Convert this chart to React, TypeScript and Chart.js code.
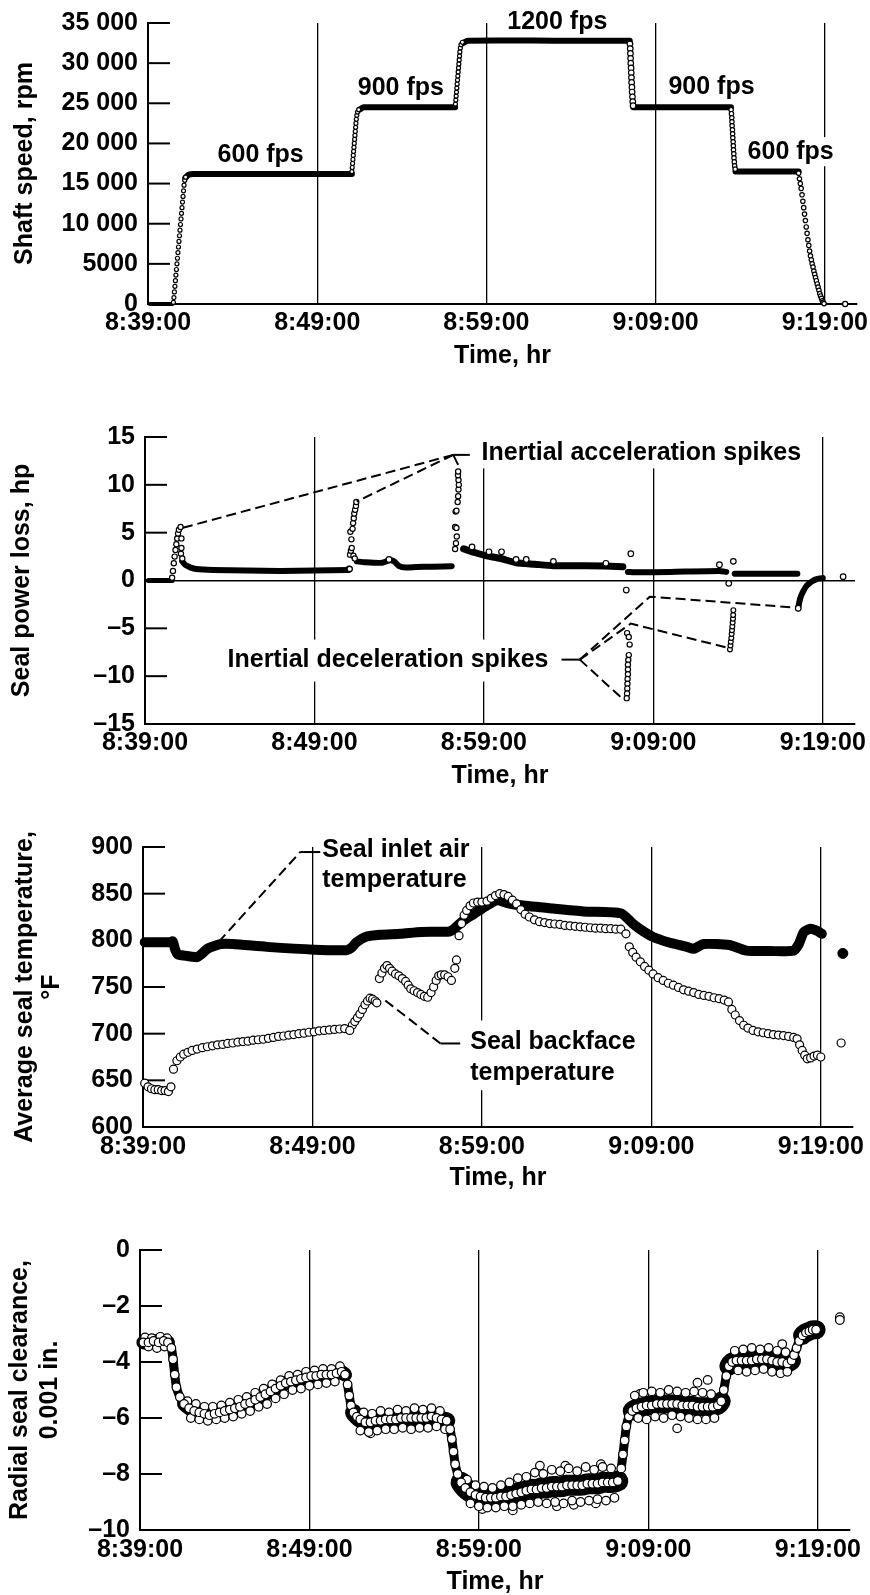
import React, { useEffect, useRef } from "react";
import { Chart, registerables } from "chart.js";

Chart.register(...registerables);

const FONT = "'Liberation Sans', Arial, Helvetica, sans-serif";

/* ---------- shared time axis (minutes after 8:39:00) ---------- */
const timeTickValues = [0, 10, 20, 30, 40];
const timeTickLabels = ["8:39:00", "8:49:00", "8:59:00", "9:09:00", "9:19:00"];
const timeMax = 41.9;
const timeTitle = "Time, hr";

/* ---------- panel 1: shaft speed, rpm ---------- */
const speedTickValues = [0, 5000, 10000, 15000, 20000, 25000, 30000, 35000];
const speedTickLabels = ["0", "5000", "10 000", "15 000", "20 000", "25 000", "30 000", "35 000"];
const speedIdle = [[0.1, 0], [0.8, 0], [1.45, 0]];
const speedHold600Up = [[2.2, 15700], [2.4, 16100], [2.7, 16200], [7.0, 16200], [12.05, 16200]];
const speedHold900Up = [[12.5, 24200], [12.75, 24500], [15.0, 24500], [18.15, 24500]];
const speedHold1200 = [[18.62, 32500], [18.9, 32800], [24.0, 32800], [28.47, 32800]];
const speedHold900Down = [[28.68, 24500], [31.0, 24500], [34.45, 24500]];
const speedHold600Down = [[34.72, 16500], [36.5, 16500], [38.45, 16500]];
const speedSpinDownTail = [[39.45, 3300], [39.6, 2100], [39.75, 1000], [39.9, 200], [40.0, 0]];
const speedRampUp1 = [
  [1.5, 200], [1.53, 800], [1.56, 1500], [1.59, 2200], [1.62, 2900], [1.65, 3600], [1.68, 4300], [1.71, 5000],
  [1.74, 5700], [1.77, 6400], [1.8, 7100], [1.83, 7800], [1.86, 8500], [1.89, 9200], [1.92, 9900], [1.95, 10600],
  [1.98, 11300], [2.01, 12000], [2.04, 12700], [2.07, 13400], [2.1, 14100], [2.13, 14800], [2.17, 15400], [2.22, 15800],
];
const speedRampUp2 = [
  [12.05, 16500], [12.07, 17000], [12.09, 17500], [12.11, 18000], [12.13, 18500], [12.15, 19000], [12.17, 19500],
  [12.19, 20000], [12.21, 20500], [12.23, 21000], [12.25, 21500], [12.27, 22000], [12.29, 22500], [12.31, 23000],
  [12.34, 23500], [12.38, 23900], [12.45, 24200],
];
const speedRampUp3 = [
  [18.17, 24900], [18.19, 25400], [18.21, 25900], [18.23, 26400], [18.25, 26900], [18.27, 27400], [18.29, 27900],
  [18.31, 28400], [18.33, 28900], [18.35, 29400], [18.37, 29900], [18.39, 30400], [18.41, 30900], [18.43, 31400],
  [18.46, 31900], [18.5, 32300], [18.58, 32600],
];
const speedRampDown1 = [
  [28.48, 32400], [28.5, 31800], [28.51, 31200], [28.52, 30600], [28.53, 30000], [28.55, 29400], [28.56, 28800],
  [28.57, 28200], [28.58, 27600], [28.6, 27000], [28.61, 26400], [28.63, 25800], [28.65, 25200], [28.67, 24700],
];
const speedRampDown2 = [
  [34.46, 24200], [34.48, 23700], [34.5, 23200], [34.51, 22700], [34.52, 22200], [34.54, 21700], [34.55, 21200],
  [34.56, 20700], [34.58, 20200], [34.59, 19700], [34.6, 19200], [34.62, 18700], [34.63, 18200], [34.65, 17700],
  [34.67, 17200], [34.7, 16800],
];
const speedSpinDown = [
  [38.45, 16300], [38.5, 15600], [38.55, 15000], [38.6, 14400], [38.65, 13600], [38.7, 12800], [38.75, 12000],
  [38.8, 11200], [38.85, 10400], [38.9, 9600], [38.95, 8800], [39.0, 8000], [39.05, 7300], [39.1, 6600],
  [39.15, 6000], [39.2, 5500], [39.25, 5000], [39.3, 4600], [39.35, 4100], [39.4, 3700], [39.45, 3300],
  [39.5, 2900], [39.55, 2500], [39.6, 2100], [39.65, 1700], [39.7, 1300], [39.75, 1000], [39.8, 700],
  [39.85, 400], [39.9, 200], [39.95, 50],
];
const speedAfterStop = [[41.2, 0]];
const speedLabels = ["600 fps", "900 fps", "1200 fps", "900 fps", "600 fps"];
const speedLabelAt = [[6.66, 18560], [14.94, 26870], [24.19, 35060], [33.3, 27070], [37.98, 18970]];

/* ---------- panel 2: seal power loss, hp ---------- */
const powerTickValues = [-15, -10, -5, 0, 5, 10, 15];
const powerTickLabels = ["\u201315", "\u201310", "\u20135", "0", "5", "10", "15"];
const powerIdle = [[0.2, 0], [0.8, 0], [1.6, 0]];
const powerBand600Up = [[2.2, 2.0], [2.4, 1.6], [2.7, 1.35], [3.0, 1.2], [4.0, 1.1], [6.0, 1.05], [8.0, 1.0], [10.0, 1.05], [12.0, 1.1]];
const powerBand900Up = [[12.5, 2.0], [13.0, 1.9], [14.0, 1.85], [14.4, 2.1], [14.7, 2.0], [15.0, 1.5], [15.4, 1.35], [16.0, 1.4], [17.0, 1.45], [18.1, 1.5]];
const powerBand1200 = [[18.8, 3.3], [19.5, 2.9], [20.1, 2.6], [21.0, 2.3], [21.9, 1.85], [23.0, 1.7], [24.1, 1.55], [26.0, 1.55], [28.2, 1.45]];
const powerBand900Down = [[28.5, 0.9], [29.0, 0.85], [31.0, 0.9], [33.9, 1.0], [34.3, 0.9]];
const powerBand600Down = [[34.8, 0.7], [36.0, 0.7], [38.5, 0.7]];
const powerRecovery = [[38.55, -2.9], [38.62, -2.2], [38.72, -1.6], [38.85, -1.1], [39.0, -0.65], [39.2, -0.3], [39.4, -0.05], [39.6, 0.12], [39.8, 0.22], [40.0, 0.25]];
const powerAccelSpike1 = [
  [1.6, 0.3], [1.65, 1.0], [1.7, 1.8], [1.75, 2.5], [1.8, 3.2], [1.85, 3.8], [1.9, 4.4], [1.95, 4.9], [2.0, 5.3],
  [2.1, 5.6], [2.15, 4.4], [2.15, 3.4], [2.12, 2.8], [2.2, 2.3],
];
const powerAccelSpike2 = [
  [12.08, 1.2], [12.1, 2.7], [12.15, 3.1], [12.2, 3.4], [12.18, 4.3], [12.12, 5.1], [12.25, 5.4], [12.28, 6.0],
  [12.32, 6.5], [12.35, 7.0], [12.4, 7.4], [12.45, 7.8], [12.47, 8.2], [12.3, 2.6], [12.38, 2.3],
];
const powerAccelSpike3 = [
  [18.3, 3.3], [18.35, 3.9], [18.4, 4.6], [18.3, 5.6], [18.38, 5.5], [18.33, 7.2], [18.38, 7.3], [18.45, 8.2],
  [18.48, 8.8], [18.5, 9.5], [18.52, 10.0], [18.5, 10.5], [18.47, 11.0], [18.48, 11.4],
];
const powerDecelSpike1 = [
  [28.45, -5.5], [28.55, -5.9], [28.6, -6.7], [28.55, -7.8], [28.52, -8.3], [28.5, -8.8], [28.5, -9.3], [28.5, -9.8],
  [28.48, -10.3], [28.47, -10.8], [28.46, -11.3], [28.45, -11.8], [28.43, -12.3],
];
const powerDecelSpike2 = [
  [34.52, -7.2], [34.55, -6.8], [34.57, -6.4], [34.6, -6.0], [34.62, -5.6], [34.64, -5.2], [34.66, -4.8],
  [34.68, -4.4], [34.7, -4.0], [34.71, -3.6], [34.72, -3.1],
];
const powerStrays = [
  [28.67, 2.8], [28.4, -1.0], [34.72, 2.0], [34.45, -0.3], [38.55, -2.9], [41.2, 0.4], [14.4, 2.2], [12.05, 1.2],
  [21.04, 3.0], [21.9, 2.2], [22.5, 2.2], [24.1, 2.0], [27.2, 1.8], [33.9, 1.65], [19.3, 3.5], [20.3, 3.0],
];

/* ---------- panel 3: average seal temperature, °F ---------- */
const tempTickValues = [600, 650, 700, 750, 800, 850, 900];
const tempTickLabels = ["600", "650", "700", "750", "800", "850", "900"];
const inletAir = [
  [0.1, 798], [1.6, 798], [1.75, 799], [1.9, 790], [2.05, 785], [2.3, 784], [3.2, 782], [3.5, 786], [3.8, 791],
  [4.2, 794], [4.6, 796], [5.3, 796], [7.3, 793], [10.1, 790], [12.0, 789.5], [12.3, 792], [12.6, 798], [13.2, 804],
  [14.0, 806], [15.2, 807], [16.4, 809], [18.1, 809.5], [18.4, 813], [18.9, 821], [19.5, 828], [20.0, 834],
  [20.9, 843], [21.5, 840], [22.3, 837.5], [24.2, 834], [26.0, 831], [28.2, 829], [28.9, 818], [29.5, 810],
  [30.1, 803.6], [31.0, 798], [32.1, 793], [32.5, 791], [33.1, 796], [34.6, 795], [35.6, 789], [37.0, 788.5],
  [38.4, 789], [38.7, 796], [39.0, 809], [39.4, 812.5], [39.8, 810], [40.06, 807],
];
const inletAirLast = [[41.3, 786]];
const backfaceIdle = [[0.1, 647], [0.3, 643], [0.5, 641], [0.7, 640], [0.9, 640], [1.1, 639], [1.3, 639], [1.5, 638], [1.65, 643]];
const backface600 = [
  [1.8, 662], [2.0, 671], [2.2, 675], [2.4, 678], [2.65, 680], [2.9, 682], [3.2, 683.5], [3.5, 685], [3.8, 686],
  [4.1, 687], [4.4, 688], [4.7, 688.5], [5.0, 689.5], [5.3, 690], [5.6, 691], [5.9, 691.5], [6.2, 692], [6.5, 693],
  [6.8, 693.5], [7.1, 694], [7.4, 695], [7.7, 696], [8.0, 697], [8.3, 697.5], [8.6, 698.5], [8.9, 699], [9.2, 700],
  [9.5, 700.5], [9.8, 701.5], [10.1, 702], [10.4, 703], [10.7, 703.5], [11.0, 704], [11.3, 704.5], [11.6, 705],
  [11.9, 705.5], [12.2, 703.5],
];
const backface900 = [
  [12.35, 709], [12.5, 713], [12.65, 717], [12.8, 721], [12.95, 726], [13.1, 731], [13.25, 735], [13.4, 738],
  [13.55, 737], [13.7, 735], [13.8, 733], [13.95, 759], [14.1, 765], [14.25, 770], [14.4, 773], [14.55, 770],
  [14.7, 767], [14.9, 764], [15.1, 762], [15.3, 759], [15.5, 756], [15.65, 752], [15.8, 748], [16.0, 746],
  [16.2, 744], [16.4, 742], [16.6, 740], [16.8, 739], [17.0, 744], [17.15, 750], [17.3, 757], [17.45, 762],
  [17.6, 763], [17.8, 763], [18.0, 761], [18.2, 757], [18.4, 770], [18.5, 779],
];
const backface1200 = [
  [18.65, 805], [18.8, 818], [18.95, 827], [19.1, 832], [19.3, 837], [19.5, 840], [19.75, 841], [20.0, 841],
  [20.3, 842], [20.55, 845], [20.8, 848], [21.05, 850], [21.3, 849], [21.55, 847], [21.8, 843], [22.05, 839],
  [22.3, 833], [22.55, 828], [22.8, 825], [23.1, 822], [23.4, 820], [23.7, 819], [24.0, 818], [24.3, 817.5],
  [24.6, 817], [24.9, 816], [25.2, 815.5], [25.5, 815], [25.8, 814.5], [26.1, 814], [26.4, 813.5], [26.7, 813],
  [27.0, 813], [27.3, 812.5], [27.6, 812.5], [27.9, 812], [28.2, 812], [28.5, 807],
];
const backfaceDecel = [
  [28.7, 793], [28.9, 787], [29.1, 782], [29.35, 777], [29.6, 772], [29.85, 768], [30.1, 764], [30.4, 760],
  [30.7, 757], [31.0, 754], [31.3, 752], [31.6, 749.5], [31.9, 747], [32.2, 745.5], [32.5, 744], [32.8, 742],
  [33.1, 741], [33.4, 740], [33.7, 738.5], [34.0, 737.5], [34.3, 736], [34.55, 734], [34.75, 726], [34.95, 720],
  [35.2, 714], [35.45, 709], [35.7, 706], [36.0, 703.5], [36.3, 702], [36.6, 701], [36.9, 700], [37.2, 699],
  [37.5, 698.5], [37.8, 698], [38.1, 697], [38.4, 696], [38.6, 694.5], [38.75, 688], [38.9, 682], [39.05, 677],
  [39.2, 673], [39.4, 674], [39.6, 676], [39.8, 677], [40.0, 675],
];
const backfaceLast = [[41.2, 690]];

/* ---------- panel 4: radial seal clearance, 0.001 in. ---------- */
const clearTickValues = [-10, -8, -6, -4, -2, 0];
const clearTickLabels = ["\u201310", "\u20138", "\u20136", "\u20134", "\u20132", "0"];
const clearanceStart = [
  [0.2, -3.3], [0.5, -3.3], [0.8, -3.25], [1.1, -3.3], [1.4, -3.25], [1.65, -3.3], [1.85, -3.5], [1.95, -3.9],
  [2.05, -4.45], [2.15, -4.9], [2.35, -5.25], [2.6, -5.5], [2.9, -5.65], [3.2, -5.75], [3.5, -5.8], [3.8, -5.85],
  [4.1, -5.9], [4.4, -5.85], [4.7, -5.8], [5.0, -5.75], [5.3, -5.7], [5.6, -5.65], [5.9, -5.6], [6.2, -5.5],
  [6.5, -5.45], [6.8, -5.35], [7.1, -5.25], [7.4, -5.15], [7.7, -5.05], [8.0, -4.95], [8.3, -4.85], [8.6, -4.75],
  [8.9, -4.7], [9.2, -4.65], [9.5, -4.6], [9.8, -4.55], [10.1, -4.5], [10.4, -4.5], [10.7, -4.45], [11.0, -4.45],
  [11.3, -4.45], [11.6, -4.4], [11.9, -4.35], [12.1, -4.45],
];
const clearance900 = [
  [12.25, -4.8], [12.35, -5.2], [12.45, -5.55], [12.6, -5.8], [12.8, -5.95], [13.0, -6.05], [13.3, -6.15],
  [13.6, -6.15], [13.9, -6.1], [14.2, -6.1], [14.5, -6.05], [14.8, -6.05], [15.1, -6.05], [15.4, -6.0],
  [15.7, -6.0], [16.0, -6.0], [16.3, -6.0], [16.6, -6.0], [16.9, -6.0], [17.2, -5.95], [17.5, -6.0], [17.8, -6.05],
  [18.1, -6.1],
];
const clearance1200 = [
  [18.3, -6.4], [18.4, -6.75], [18.5, -7.2], [18.6, -7.65], [18.75, -8.0], [18.95, -8.3], [19.2, -8.5],
  [19.5, -8.65], [19.8, -8.75], [20.1, -8.8], [20.4, -8.85], [20.7, -8.85], [21.0, -8.85], [21.3, -8.8],
  [21.6, -8.8], [21.9, -8.75], [22.2, -8.7], [22.5, -8.65], [22.8, -8.6], [23.1, -8.55], [23.4, -8.55],
  [23.7, -8.5], [24.0, -8.5], [24.3, -8.45], [24.6, -8.45], [24.9, -8.45], [25.2, -8.4], [25.5, -8.4],
  [25.8, -8.4], [26.1, -8.4], [26.4, -8.35], [26.7, -8.35], [27.0, -8.35], [27.3, -8.3], [27.6, -8.3],
  [27.9, -8.3], [28.2, -8.25],
];
const clearanceDecel = [
  [28.4, -7.8], [28.5, -7.3], [28.6, -6.8], [28.7, -6.3], [28.85, -5.95], [29.05, -5.75], [29.3, -5.65],
  [29.6, -5.6], [29.9, -5.55], [30.2, -5.55], [30.5, -5.5], [30.8, -5.5], [31.1, -5.5], [31.4, -5.5],
  [31.7, -5.5], [32.0, -5.55], [32.3, -5.55], [32.6, -5.55], [32.9, -5.6], [33.2, -5.6], [33.5, -5.6],
  [33.8, -5.6], [34.1, -5.55], [34.3, -5.4], [34.45, -5.0], [34.6, -4.5], [34.75, -4.15], [34.95, -4.0],
  [35.2, -3.95], [35.5, -3.95], [35.8, -3.95], [36.1, -3.95], [36.4, -3.9], [36.7, -3.9], [37.0, -3.9],
  [37.3, -3.95], [37.6, -4.0], [37.9, -4.0], [38.2, -4.05], [38.45, -3.95], [38.6, -3.75], [38.75, -3.5],
  [38.9, -3.25], [39.1, -3.05], [39.3, -2.95], [39.5, -2.9], [39.7, -2.85], [39.9, -2.85],
];
const clearanceUpperEdge = [
  [0.3, -3.12], [0.7, -3.15], [1.2, -3.1], [1.6, -3.15], [2.8, -5.4], [3.3, -5.5], [3.8, -5.6], [4.3, -5.6],
  [4.8, -5.55], [5.3, -5.45], [5.8, -5.35], [6.3, -5.25], [6.8, -5.1], [7.3, -4.95], [7.8, -4.8], [8.3, -4.65],
  [8.8, -4.5], [9.3, -4.45], [9.8, -4.35], [10.3, -4.3], [10.8, -4.25], [11.3, -4.25], [11.8, -4.15],
  [13.2, -5.8], [13.7, -5.85], [14.2, -5.75], [14.7, -5.8], [15.2, -5.7], [15.7, -5.75], [16.2, -5.65],
  [16.7, -5.7], [17.2, -5.65], [17.7, -5.75], [19.3, -8.2], [19.8, -8.4], [20.3, -8.45], [20.8, -8.5],
  [21.3, -8.4], [21.8, -8.3], [22.3, -8.15], [22.8, -8.1], [23.3, -7.95], [23.8, -8.0], [24.3, -7.85],
  [24.8, -7.9], [25.3, -7.8], [25.8, -7.9], [26.3, -7.75], [26.8, -7.85], [27.3, -7.75], [27.8, -7.8],
  [29.2, -5.2], [29.7, -5.1], [30.2, -5.05], [30.7, -5.1], [31.2, -5.0], [31.7, -5.05], [32.2, -5.1],
  [32.7, -5.05], [33.2, -5.1], [33.7, -5.15], [35.1, -3.6], [35.6, -3.55], [36.1, -3.5], [36.6, -3.55],
  [37.1, -3.5], [37.6, -3.6], [38.1, -3.65],
];
const clearanceLowerEdge = [
  [0.5, -3.45], [1.0, -3.5], [1.45, -3.45], [3.0, -6.0], [3.5, -6.05], [4.0, -6.1], [4.5, -6.05], [5.0, -6.0],
  [5.5, -5.95], [6.0, -5.85], [6.5, -5.75], [7.0, -5.6], [7.5, -5.5], [8.0, -5.3], [8.5, -5.15], [9.0, -5.0],
  [9.5, -4.95], [10.0, -4.85], [10.5, -4.8], [11.0, -4.75], [11.5, -4.7], [13.0, -6.45], [13.5, -6.5],
  [14.0, -6.45], [14.5, -6.4], [15.0, -6.4], [15.5, -6.35], [16.0, -6.4], [16.5, -6.35], [17.0, -6.35],
  [17.5, -6.3], [18.0, -6.4], [19.5, -9.05], [20.0, -9.15], [20.5, -9.2], [21.0, -9.2], [21.5, -9.15],
  [22.0, -9.15], [22.5, -9.1], [23.0, -9.05], [23.5, -9.0], [24.0, -9.05], [24.5, -9.0], [25.0, -9.05],
  [25.5, -8.95], [26.0, -9.0], [26.5, -8.95], [27.0, -8.9], [27.5, -8.95], [28.0, -8.85], [29.4, -6.0],
  [29.9, -6.05], [30.4, -5.95], [30.9, -6.0], [31.4, -5.9], [31.9, -5.95], [32.4, -6.0], [32.9, -6.05],
  [33.4, -6.05], [33.9, -6.0], [35.3, -4.3], [35.8, -4.35], [36.3, -4.3], [36.8, -4.25], [37.3, -4.35],
  [37.8, -4.4], [38.2, -4.35],
];
const clearanceOutliers = [
  [13.6, -6.55], [25.1, -7.7], [25.6, -9.1], [26.9, -9.05], [23.6, -7.7], [31.7, -6.37], [32.9, -4.74],
  [33.5, -4.64], [37.9, -3.36], [29.5, -5.14], [22.0, -9.3], [20.2, -9.25], [27.2, -7.65], [24.6, -9.15],
];
const clearanceLast = [[41.3, -2.4], [41.3, -2.5]];

/* ---------- helpers ---------- */
const toXY = (a: number[][]) => a.map(([x, y]) => ({ x, y }));
const band = (a: number[][], w: number, steepW?: number) => ({
  data: toXY(a), showLine: true, borderColor: "#000", borderWidth: w, pointRadius: 0, pointHoverRadius: 0,
  tension: 0.2, borderCapStyle: "round", borderJoinStyle: "round", fill: false, clip: false,
  segment: steepW
    ? {
        borderWidth: (c: any) => {
          const dx = Math.abs(c.p1.x - c.p0.x);
          const dy = Math.abs(c.p1.y - c.p0.y);
          return dy > 1.5 * dx ? steepW : w;
        },
      }
    : undefined,
});
const rings = (a: number[][], r: number, bw = 1.2) => ({
  data: toXY(a), showLine: false, pointRadius: r, pointHoverRadius: r, pointBackgroundColor: "#fff",
  pointBorderColor: "#000", pointBorderWidth: bw, clip: false,
});
const blobs = (a: number[][], r: number) => ({
  data: toXY(a), showLine: false, pointRadius: r, pointHoverRadius: r, pointBackgroundColor: "#000",
  pointBorderColor: "#000", pointBorderWidth: 1, clip: false,
});

type TextAnn = { at: number[]; lines: string[]; align: "left" | "center" | "right"; gap?: number; bg?: number[] };
type LineAnn = { pts: number[][]; dash: number[] };

function textBox(ctx: CanvasRenderingContext2D, t: TextAnn, xs: any, ys: any) {
  const px = xs.getPixelForValue(t.at[0]);
  const py = ys.getPixelForValue(t.at[1]);
  const gap = t.gap ?? 30;
  const w = Math.max(...t.lines.map((s) => ctx.measureText(s).width));
  const x0 = t.align === "left" ? px : t.align === "right" ? px - w : px - w / 2;
  return { px, py, gap, x0, y0: py - 12.5, w, h: (t.lines.length - 1) * gap + 25 };
}

function extrasPlugin(texts: TextAnn[], leaders: LineAnn[], tickLen: number) {
  return {
    id: "panelExtras",
    beforeDatasetsDraw(chart: any) {
      const { ctx, chartArea: ca, scales } = chart;
      const xs = scales.x, ys = scales.y;
      ctx.save();
      ctx.strokeStyle = "#000";
      ctx.lineWidth = 2;
      for (const tk of ys.ticks) {
        const py = ys.getPixelForValue(tk.value);
        ctx.beginPath();
        ctx.moveTo(ca.left, py);
        ctx.lineTo(ca.left + tickLen, py);
        ctx.stroke();
      }
      ctx.font = `bold 25px ${FONT}`;
      ctx.fillStyle = "#fff";
      for (const t of texts) {
        if (!t.bg) continue;
        const b = textBox(ctx, t, xs, ys);
        ctx.fillRect(b.x0 - t.bg[0], b.y0 - t.bg[1], b.w + t.bg[0] + t.bg[2], b.h + t.bg[1] + t.bg[3]);
      }
      ctx.restore();
    },
    afterDraw(chart: any) {
      const { ctx, scales } = chart;
      const xs = scales.x, ys = scales.y;
      ctx.save();
      ctx.strokeStyle = "#000";
      ctx.lineWidth = 2;
      for (const l of leaders) {
        ctx.setLineDash(l.dash);
        ctx.beginPath();
        l.pts.forEach(([t, v], i) => {
          const px = xs.getPixelForValue(t), py = ys.getPixelForValue(v);
          if (i === 0) ctx.moveTo(px, py); else ctx.lineTo(px, py);
        });
        ctx.stroke();
      }
      ctx.setLineDash([]);
      ctx.font = `bold 25px ${FONT}`;
      ctx.fillStyle = "#000";
      ctx.textBaseline = "middle";
      for (const t of texts) {
        const b = textBox(ctx, t, xs, ys);
        ctx.textAlign = t.align;
        t.lines.forEach((s, i) => ctx.fillText(s, b.px, b.py + i * b.gap));
      }
      ctx.restore();
    },
  };
}

type PanelSpec = {
  top: number; height: number;
  pad: { left: number; right: number; top: number; bottom: number };
  yWidth: number; xHeight: number; xTitlePad: number; xTickPad: number;
  yMin: number; yMax: number; yTicks: number[]; yLabels: string[];
  yTitle: string | string[]; yTitleLH: number; zeroLine: boolean;
  datasets: any[]; texts: TextAnn[]; leaders: LineAnn[];
};

function makeConfig(p: PanelSpec): any {
  const bold = (lh = 1.2) => ({ family: FONT, size: 25, weight: "bold", lineHeight: lh });
  return {
    type: "scatter",
    data: { datasets: p.datasets },
    options: {
      responsive: false,
      animation: false,
      devicePixelRatio: 1,
      events: [],
      layout: { padding: p.pad },
      plugins: { legend: { display: false }, tooltip: { enabled: false } },
      scales: {
        x: {
          type: "linear", position: "bottom", min: 0, max: timeMax,
          afterBuildTicks: (s: any) => { s.ticks = timeTickValues.map((v) => ({ value: v })); },
          afterFit: (s: any) => { s.height = p.xHeight; s.paddingLeft = 0; s.paddingRight = 0; },
          ticks: {
            autoSkip: false, maxRotation: 0, minRotation: 0, padding: p.xTickPad, color: "#000", font: bold(1.2),
            callback: (v: number) => timeTickLabels[timeTickValues.indexOf(v)] ?? "",
          },
          grid: {
            drawTicks: false, lineWidth: 1.3,
            color: (c: any) => (c.tick && c.tick.value === 0 ? "rgba(0,0,0,0)" : "#000"),
          },
          border: { display: true, color: "#000", width: 2 },
          title: { display: true, text: timeTitle, color: "#000", font: bold(1), padding: { top: 0, bottom: p.xTitlePad } },
        },
        y: {
          type: "linear", position: "left", min: p.yMin, max: p.yMax,
          afterBuildTicks: (s: any) => { s.ticks = p.yTicks.map((v) => ({ value: v })); },
          afterFit: (s: any) => { s.width = p.yWidth; s.paddingTop = 0; s.paddingBottom = 0; },
          ticks: {
            autoSkip: false, padding: 10, color: "#000", font: bold(1.2),
            callback: (v: number) => p.yLabels[p.yTicks.indexOf(v)] ?? "",
          },
          grid: {
            display: p.zeroLine, drawTicks: false, lineWidth: 1.5,
            color: (c: any) => (c.tick && c.tick.value === 0 ? "#000" : "rgba(0,0,0,0)"),
          },
          border: { display: true, color: "#000", width: 2 },
          title: { display: true, text: p.yTitle, color: "#000", font: bold(p.yTitleLH), padding: { top: 0, bottom: 0 } },
        },
      },
    },
    plugins: [extrasPlugin(p.texts, p.leaders, 22)],
  };
}

const DASH = [10, 5];

const panels: PanelSpec[] = [
  {
    top: 0, height: 380, pad: { left: 10, right: 13, top: 23, bottom: 6 },
    yWidth: 138, xHeight: 70, xTitlePad: 5.5, xTickPad: 4,
    yMin: 0, yMax: 35000, yTicks: speedTickValues, yLabels: speedTickLabels,
    yTitle: "Shaft speed, rpm", yTitleLH: 1.2, zeroLine: false,
    datasets: [
      rings(speedRampUp1, 2), rings(speedRampUp2, 2), rings(speedRampUp3, 2),
      rings(speedRampDown1, 2.8), rings(speedRampDown2, 2.2), rings(speedSpinDown, 2.2), rings(speedAfterStop, 2.6),
      band(speedIdle, 4), band(speedHold600Up, 6), band(speedHold900Up, 6), band(speedHold1200, 6),
      band(speedHold900Down, 6), band(speedHold600Down, 6), band(speedSpinDownTail, 4),
    ],
    texts: speedLabels.map((s, i) => ({ at: speedLabelAt[i], lines: [s], align: "center" as const, bg: [2, 2, 2, 2] })),
    leaders: [],
  },
  {
    top: 380, height: 420, pad: { left: 7.5, right: 15, top: 57, bottom: 6 },
    yWidth: 137.5, xHeight: 70, xTitlePad: 5.5, xTickPad: 4,
    yMin: -15, yMax: 15, yTicks: powerTickValues, yLabels: powerTickLabels,
    yTitle: "Seal power loss, hp", yTitleLH: 1.2, zeroLine: true,
    datasets: [
      rings(powerAccelSpike1, 2.6), rings(powerAccelSpike2, 2.6), rings(powerAccelSpike3, 2.6),
      rings(powerDecelSpike1, 2.6), rings(powerDecelSpike2, 2.4), rings(powerStrays, 2.8),
      band(powerIdle, 5), band(powerBand600Up, 6), band(powerBand900Up, 6), band(powerBand1200, 7),
      band(powerBand900Down, 6), band(powerBand600Down, 6), band(powerRecovery, 6),
    ],
    texts: [
      { at: [19.86, 13.34], lines: ["Inertial acceleration spikes"], align: "left", bg: [6, 4, 6, 3] },
      { at: [14.34, -8.37], lines: ["Inertial deceleration spikes"], align: "center", bg: [6, 8.5, 6, 8.5] },
    ],
    leaders: [
      { pts: [[18.19, 13.13], [19.17, 13.13]], dash: [] },
      { pts: [[18.19, 13.13], [18.48, 12.09]], dash: [] },
      { pts: [[18.19, 13.13], [2.17, 5.48]], dash: DASH },
      { pts: [[18.19, 13.13], [12.49, 8.26]], dash: DASH },
      { pts: [[24.58, -8.27], [25.66, -8.27]], dash: [] },
      { pts: [[25.66, -8.27], [29.79, -1.69], [38.41, -2.84]], dash: DASH },
      { pts: [[25.66, -8.27], [28.67, -4.51], [34.34, -7.01]], dash: DASH },
      { pts: [[25.66, -8.27], [28.2, -12.4]], dash: DASH },
    ],
  },
  {
    top: 800, height: 405, pad: { left: 11.5, right: 17, top: 47, bottom: 8 },
    yWidth: 131.5, xHeight: 70, xTitlePad: 6.5, xTickPad: 5,
    yMin: 600, yMax: 900, yTicks: tempTickValues, yLabels: tempTickLabels,
    yTitle: ["Average seal temperature,", "\u00B0F"], yTitleLH: 1.08, zeroLine: false,
    datasets: [
      rings(backfaceIdle, 4), rings(backface600, 4), rings(backface900, 4), rings(backface1200, 4),
      rings(backfaceDecel, 4), rings(backfaceLast, 4),
      blobs(inletAirLast, 5), band(inletAir, 10),
    ],
    texts: [
      { at: [10.58, 896.5], lines: ["Seal inlet air", "temperature"], align: "left", gap: 30 },
      { at: [19.31, 691.1], lines: ["Seal backface", "temperature"], align: "left", gap: 31.3, bg: [5, 9, 4, 4.5] },
    ],
    leaders: [
      { pts: [[4.46, 798.2], [9.28, 894.6]], dash: DASH },
      { pts: [[9.28, 894.6], [10.46, 894.6]], dash: [] },
      { pts: [[14.3, 735.6], [17.55, 689.5]], dash: DASH },
      { pts: [[17.55, 689.5], [18.72, 689.5]], dash: [] },
    ],
  },
  {
    top: 1205, height: 390, pad: { left: 5, right: 20, top: 45, bottom: 0 },
    yWidth: 135, xHeight: 65, xTitlePad: 0.5, xTickPad: 5,
    yMin: -10, yMax: 0, yTicks: clearTickValues, yLabels: clearTickLabels,
    yTitle: ["Radial seal clearance,", "0.001 in."], yTitleLH: 1.2, zeroLine: false,
    datasets: [
      rings(clearanceStart, 4.3), rings(clearance900, 4.3), rings(clearance1200, 4.3), rings(clearanceDecel, 4.3),
      rings(clearanceUpperEdge, 4.3), rings(clearanceLowerEdge, 4.3), rings(clearanceOutliers, 4.3),
      rings(clearanceLast, 4.3),
      band(clearanceStart, 14, 9), band(clearance900, 17, 9), band(clearance1200, 21, 9), band(clearanceDecel, 19, 9),
    ],
    texts: [],
    leaders: [],
  },
];

function ChartPanel({ spec }: { spec: PanelSpec }) {
  const ref = useRef<HTMLCanvasElement | null>(null);
  useEffect(() => {
    if (!ref.current) return;
    const chart = new Chart(ref.current, makeConfig(spec));
    return () => chart.destroy();
  }, [spec]);
  return (
    <canvas
      ref={ref}
      width={870}
      height={spec.height}
      style={{ position: "absolute", left: 0, top: spec.top, width: 870, height: spec.height }}
    />
  );
}

export default function App() {
  return (
    <div style={{ position: "absolute", left: 0, top: 0, width: 870, height: 1595, background: "#fff", overflow: "hidden" }}>
      {panels.map((p, i) => (
        <ChartPanel key={i} spec={p} />
      ))}
    </div>
  );
}
